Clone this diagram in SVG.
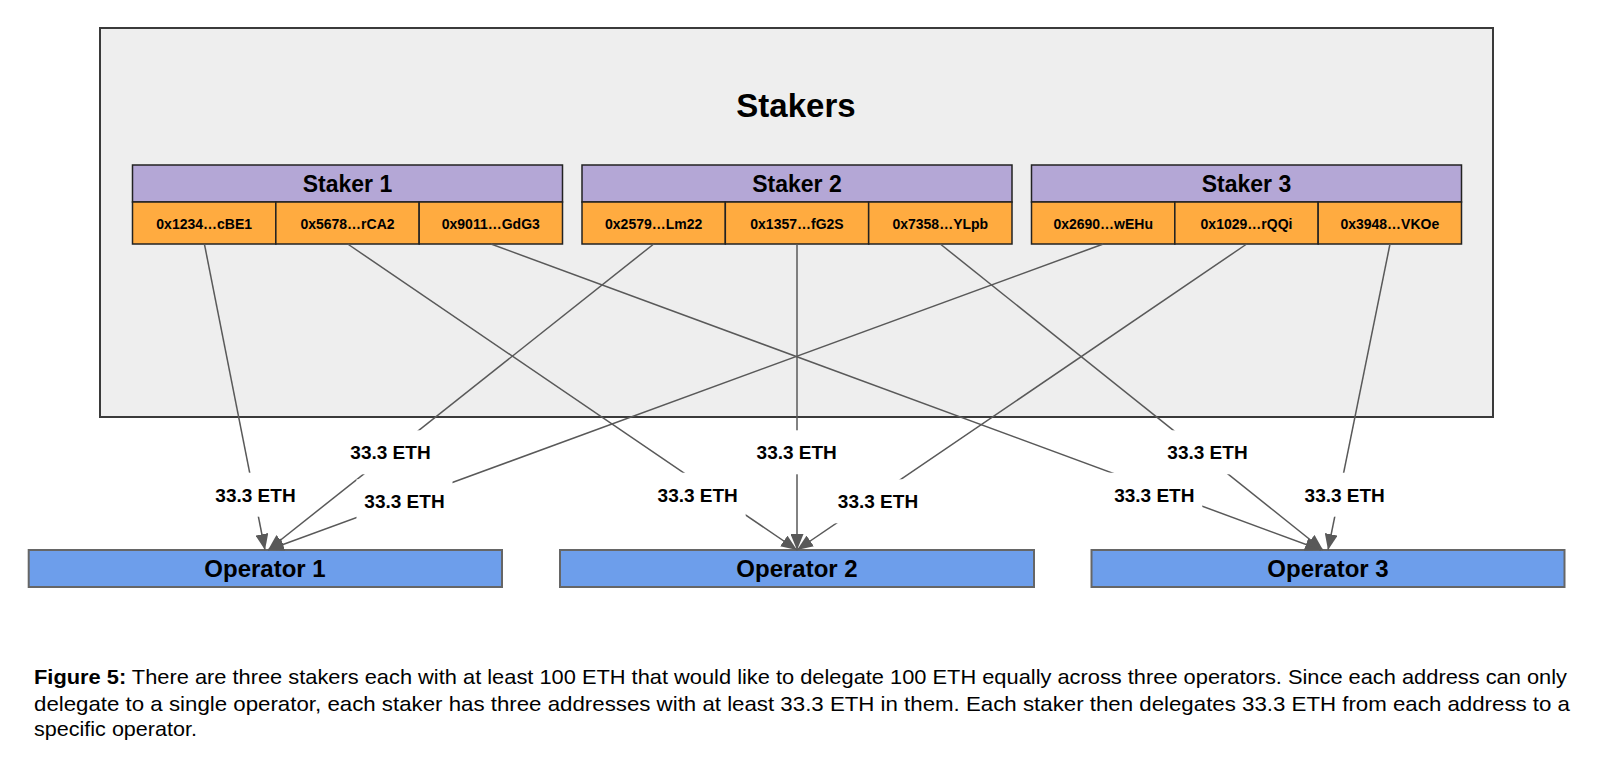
<svg xmlns="http://www.w3.org/2000/svg" width="1600" height="769" viewBox="0 0 1600 769">
<style>
text{font-family:"Liberation Sans",Arial,sans-serif;fill:#000}
.b{font-weight:bold}
.hdr{fill:#b4a7d6;stroke:#222;stroke-width:1.5}
.addr{fill:#ffab40;stroke:#222;stroke-width:1.5}
.op{fill:#6d9eeb;stroke:#666;stroke-width:2}
.ht{font-size:23px;font-weight:bold;text-anchor:middle}
.at{font-size:14px;font-weight:bold;text-anchor:middle}
.ot{font-size:24px;font-weight:bold;text-anchor:middle}
.ln{stroke:#595959;stroke-width:1.5;fill:none;marker-end:url(#ah)}
.lb{fill:#fff}
.lt{font-size:19px;font-weight:bold;text-anchor:middle}
</style>
<defs>
<marker id="ah" markerUnits="userSpaceOnUse" markerWidth="16" markerHeight="13" refX="16" refY="6.5" orient="auto">
<path d="M0,0 L16,6.5 L0,13 z" fill="#595959"/>
</marker>
</defs>
<rect width="1600" height="769" fill="#fff"/>
<g id="stakers">
<rect x="100" y="28" width="1393" height="389" fill="#eeeeee" stroke="#3a3a3a" stroke-width="2"/>
<text x="796" y="117" class="b" font-size="33" text-anchor="middle">Stakers</text>
</g>
<g id="staker1">
<rect class="hdr" x="132.5" y="165" width="430" height="37"/>
<text class="ht" x="347.5" y="192">Staker 1</text>
<rect class="addr" x="132.5" y="202" width="143.33" height="42"/>
<rect class="addr" x="275.83" y="202" width="143.33" height="42"/>
<rect class="addr" x="419.17" y="202" width="143.33" height="42"/>
<text class="at" x="204.2" y="228.5">0x1234…cBE1</text>
<text class="at" x="347.5" y="228.5">0x5678…rCA2</text>
<text class="at" x="490.8" y="228.5">0x9011…GdG3</text>
</g>
<g id="staker2">
<rect class="hdr" x="582" y="165" width="430" height="37"/>
<text class="ht" x="797" y="192">Staker 2</text>
<rect class="addr" x="582" y="202" width="143.33" height="42"/>
<rect class="addr" x="725.33" y="202" width="143.33" height="42"/>
<rect class="addr" x="868.67" y="202" width="143.33" height="42"/>
<text class="at" x="653.7" y="228.5">0x2579…Lm22</text>
<text class="at" x="797" y="228.5">0x1357…fG2S</text>
<text class="at" x="940.3" y="228.5">0x7358…YLpb</text>
</g>
<g id="staker3">
<rect class="hdr" x="1031.5" y="165" width="430" height="37"/>
<text class="ht" x="1246.5" y="192">Staker 3</text>
<rect class="addr" x="1031.5" y="202" width="143.33" height="42"/>
<rect class="addr" x="1174.83" y="202" width="143.33" height="42"/>
<rect class="addr" x="1318.17" y="202" width="143.33" height="42"/>
<text class="at" x="1103.2" y="228.5">0x2690…wEHu</text>
<text class="at" x="1246.5" y="228.5">0x1029…rQQi</text>
<text class="at" x="1389.8" y="228.5">0x3948…VKOe</text>
</g>
<g id="operator1">
<rect class="op" x="28.7" y="550" width="473.3" height="37"/>
<text class="ot" x="265" y="577">Operator 1</text>
</g>
<g id="operator2">
<rect class="op" x="560" y="550" width="474" height="37"/>
<text class="ot" x="797" y="577">Operator 2</text>
</g>
<g id="operator3">
<rect class="op" x="1091.5" y="550" width="473" height="37"/>
<text class="ot" x="1328" y="577">Operator 3</text>
</g>
<g id="connectors">
<path class="ln" d="M204.4,244 L265,550"/>
<path class="ln" d="M347.7,244 L797,550"/>
<path class="ln" d="M491,244 L1321,550"/>
<path class="ln" d="M653.7,244 L268,550"/>
<path class="ln" d="M797,244 L797,550"/>
<path class="ln" d="M940.3,244 L1323,550"/>
<path class="ln" d="M1103.3,244 L268,550"/>
<path class="ln" d="M1246.7,244 L797,550"/>
<path class="ln" d="M1390,244 L1328,550"/>
<rect class="lb" x="207.5" y="472.7" width="96" height="44"/>
<text class="lt" x="255.5" y="501.7">33.3 ETH</text>
<rect class="lb" x="342.5" y="430.3" width="96" height="44"/>
<text class="lt" x="390.5" y="459.3">33.3 ETH</text>
<rect class="lb" x="356.5" y="479.3" width="96" height="44"/>
<text class="lt" x="404.5" y="508.3">33.3 ETH</text>
<rect class="lb" x="649.7" y="472.7" width="96" height="44"/>
<text class="lt" x="697.7" y="501.7">33.3 ETH</text>
<rect class="lb" x="748.7" y="430.3" width="96" height="44"/>
<text class="lt" x="796.7" y="459.3">33.3 ETH</text>
<rect class="lb" x="830" y="479.3" width="96" height="44"/>
<text class="lt" x="878" y="508.3">33.3 ETH</text>
<rect class="lb" x="1106.3" y="472.7" width="96" height="44"/>
<text class="lt" x="1154.3" y="501.7">33.3 ETH</text>
<rect class="lb" x="1159.5" y="430.3" width="96" height="44"/>
<text class="lt" x="1207.5" y="459.3">33.3 ETH</text>
<rect class="lb" x="1296.7" y="472.7" width="96" height="44"/>
<text class="lt" x="1344.7" y="501.7">33.3 ETH</text>
</g>
<g id="caption" font-size="21">
<text x="34" y="684" textLength="1533" lengthAdjust="spacingAndGlyphs"><tspan font-weight="bold">Figure 5:</tspan> There are three stakers each with at least 100 ETH that would like to delegate 100 ETH equally across three operators. Since each address can only</text>
<text x="34" y="710.5" textLength="1536" lengthAdjust="spacingAndGlyphs">delegate to a single operator, each staker has three addresses with at least 33.3 ETH in them. Each staker then delegates 33.3 ETH from each address to a</text>
<text x="34" y="735.5" textLength="163" lengthAdjust="spacingAndGlyphs">specific operator.</text>
</g>
</svg>
